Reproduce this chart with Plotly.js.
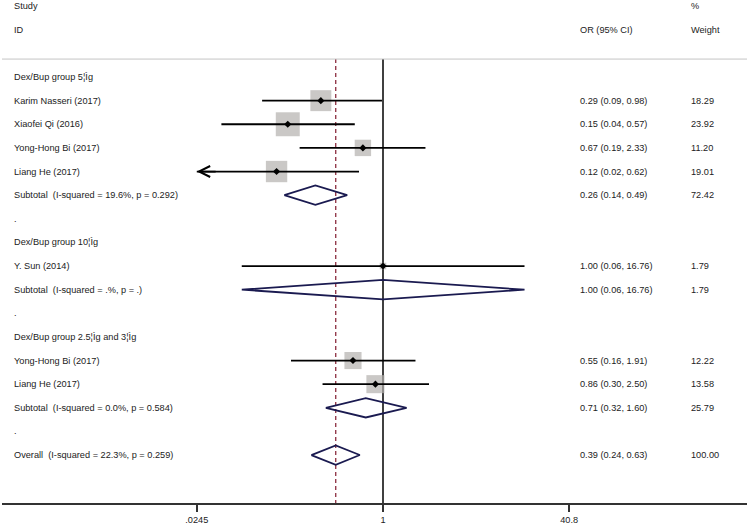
<!DOCTYPE html>
<html>
<head>
<meta charset="utf-8">
<script src="https://cdn.plot.ly/plotly-3.0.1.min.js"></script>
<style>html,body{margin:0;padding:0;background:#fff;}#chart{width:750px;height:525px;}</style>
</head>
<body>
<div id="chart"></div>
<script>
// ---- data ----
const groupNames = ["Dex/Bup group 5\u00a6\u00ccg", "Dex/Bup group 10\u00a6\u00ccg", "Dex/Bup group 2.5\u00a6\u00ccg and 3\u00a6\u00ccg"];
const studyNames = ["Karim Nasseri (2017)", "Xiaofei Qi (2016)", "Yong-Hong Bi (2017)", "Liang He (2017)", "Y. Sun (2014)", "Yong-Hong Bi (2017)", "Liang He (2017)"];
const studyGroup = [0, 0, 0, 0, 1, 2, 2];
const studyOR = [0.29, 0.15, 0.67, 0.12, 1.00, 0.55, 0.86];
const studyLo = [0.09, 0.04, 0.19, 0.02, 0.06, 0.16, 0.30];
const studyHi = [0.98, 0.57, 2.33, 0.62, 16.76, 1.91, 2.50];
const studyWeight = [18.29, 23.92, 11.20, 19.01, 1.79, 12.22, 13.58];
const subtotalLabels = ["Subtotal\u00a0 (I-squared = 19.6%, p = 0.292)", "Subtotal\u00a0 (I-squared = .%, p = .)", "Subtotal\u00a0 (I-squared = 0.0%, p = 0.584)"];
const subOR = [0.26, 1.00, 0.71];
const subLo = [0.14, 0.06, 0.32];
const subHi = [0.49, 16.76, 1.60];
const subWeight = [72.42, 1.79, 25.79];
const overallLabel = "Overall\u00a0 (I-squared = 22.3%, p = 0.259)";
const overallOR = 0.39, overallLo = 0.24, overallHi = 0.63, overallWeight = 100.00;
const tickVals = [0.0245, 1, 40.8];
const tickText = [".0245", "1", "40.8"];

// ---- layout constants ----
const FONT = "Liberation Sans, Arial, Helvetica, sans-serif";
const FS = 9.2;
const TXT = "#222";
const ML = 2, MR = 3, W = 750;
const pxToPaper = px => (px - ML) / (W - ML - MR);
const colLabel = pxToPaper(12), colOR = pxToPaper(578), colW = pxToPaper(689);
const yTop = -3.26, yBottom = 18.03, headerLineRow = -0.76;
const xClipLo = tickVals[0];
const halfH = 0.41;

// build rows
const annotations = [];
function txt(x, row, s) {
  annotations.push({xref: 'paper', yref: 'y', x: x, y: row, text: s, showarrow: false,
    xanchor: 'left', yanchor: 'middle', font: {family: FONT, size: FS, color: TXT}});
}
txt(colLabel, -3, "Study"); txt(colLabel, -2, "ID");
txt(colOR, -2, "OR (95% CI)"); txt(colW, -3, "%"); txt(colW, -2, "Weight");

const fmt = (o, l, h) => o.toFixed(2) + " (" + l.toFixed(2) + ", " + h.toFixed(2) + ")";

const boxes = {x: [], y: [], s: []};
const points = {x: [], y: []};
const ciTraces = [];
const diamonds = [];
let row = 0;
for (let g = 0; g < groupNames.length; g++) {
  txt(colLabel, row, groupNames[g]); row++;
  for (let i = 0; i < studyNames.length; i++) {
    if (studyGroup[i] !== g) continue;
    txt(colLabel, row, studyNames[i]);
    txt(colOR, row, fmt(studyOR[i], studyLo[i], studyHi[i]));
    txt(colW, row, studyWeight[i].toFixed(2));
    boxes.x.push(studyOR[i]); boxes.y.push(row); boxes.s.push(4.9 * Math.sqrt(studyWeight[i]));
    points.x.push(studyOR[i]); points.y.push(row);
    const lo = Math.max(studyLo[i], xClipLo);
    ciTraces.push({x: [lo, studyHi[i]], y: [row, row]});
    if (studyLo[i] < xClipLo) {
      annotations.push({xref: 'x', yref: 'y', axref: 'x', ayref: 'y',
        x: Math.log10(xClipLo), y: row, ax: Math.log10(xClipLo * 1.5), ay: row,
        text: '', showarrow: true, arrowhead: 5, arrowsize: 1.2, arrowwidth: 1.8,
        arrowcolor: '#000', standoff: 0});
    }
    row++;
  }
  txt(colLabel, row, subtotalLabels[g]);
  txt(colOR, row, fmt(subOR[g], subLo[g], subHi[g]));
  txt(colW, row, subWeight[g].toFixed(2));
  diamonds.push({lo: subLo[g], est: subOR[g], hi: subHi[g], row: row});
  row++;
  txt(colLabel, row, "."); row++;
}
txt(colLabel, row, overallLabel);
txt(colOR, row, fmt(overallOR, overallLo, overallHi));
txt(colW, row, overallWeight.toFixed(2));
diamonds.push({lo: overallLo, est: overallOR, hi: overallHi, row: row});

const traces = [];
// reference lines
traces.push({x: [1, 1], y: [headerLineRow, yBottom], mode: 'lines', line: {color: '#000', width: 1.5}});
traces.push({x: [overallOR, overallOR], y: [headerLineRow, yBottom], mode: 'lines', line: {color: '#8c2d3f', width: 1.3, dash: '4px,3px'}});
// boxes
traces.push({x: boxes.x, y: boxes.y, mode: 'markers', marker: {symbol: 'square', size: boxes.s, color: '#b4b1ae', line: {width: 0}}});
// CI lines
ciTraces.forEach(c => traces.push({x: c.x, y: c.y, mode: 'lines', line: {color: '#000', width: 1.8}}));
// diamonds
diamonds.forEach(d => traces.push({x: [d.lo, d.est, d.hi, d.est, d.lo], y: [d.row, d.row - halfH, d.row, d.row + halfH, d.row],
  mode: 'lines', line: {color: '#1a1a50', width: 1.8}}));
// point estimates
traces.push({x: points.x, y: points.y, mode: 'markers', marker: {symbol: 'diamond', size: 5.5, color: '#000'}});

const layout = {
  width: 750, height: 525,
  margin: {l: ML, r: MR, t: 0, b: 22, pad: 0},
  paper_bgcolor: '#fff', plot_bgcolor: '#fff',
  showlegend: false, hovermode: false,
  font: {family: FONT, size: FS, color: TXT},
  xaxis: {type: 'log', range: [-3.296, 3.149], tickvals: tickVals, ticktext: tickText,
    ticks: 'outside', ticklen: 7, tickwidth: 1.5, tickcolor: '#333',
    showline: true, linecolor: '#333', linewidth: 1.5, showgrid: false, zeroline: false,
    tickfont: {family: FONT, size: FS, color: TXT}, automargin: false, fixedrange: true},
  yaxis: {range: [yBottom, yTop], visible: false, showgrid: false, zeroline: false, fixedrange: true},
  shapes: [{type: 'line', xref: 'paper', yref: 'y', x0: 0, x1: 1, y0: headerLineRow, y1: headerLineRow,
    line: {color: '#c4c4c4', width: 1}}],
  annotations: annotations
};
Plotly.newPlot('chart', traces, layout, {displayModeBar: false, staticPlot: true});
</script>
</body>
</html>
